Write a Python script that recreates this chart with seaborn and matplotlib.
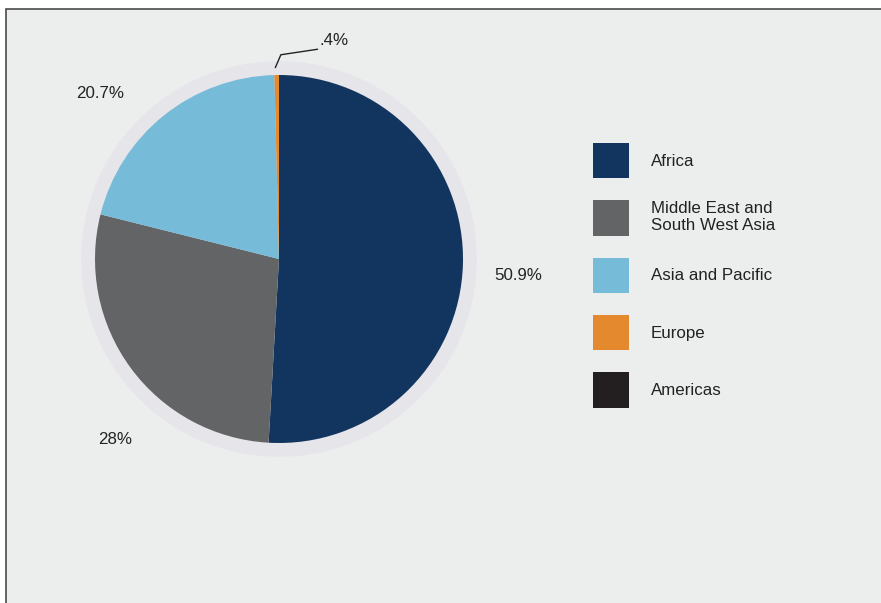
import matplotlib
matplotlib.use("Agg")
import matplotlib.pyplot as plt
import seaborn as sns
from matplotlib.patches import Rectangle, Circle, Patch

regions = ["Africa", "Middle East and\nSouth West Asia", "Asia and Pacific", "Europe", "Americas"]
shares = [50.9, 28.0, 20.7, 0.4, 0.0]
share_labels = ["50.9%", "28%", "20.7%", ".4%", ""]
colors = ["#12355f", "#636466", "#76bbd8", "#e5892f", "#231f20"]

sns.set_theme(style="white")
plt.rcParams['font.family'] = ['Liberation Sans', 'DejaVu Sans']

W, H = 881, 603
fig = plt.figure(figsize=(W / 100, H / 100), dpi=100)
fig.patch.set_facecolor("white")

# panel background with border
panel = Rectangle((6 / W, -0.01), 1.0, 1 - 9 / H + 0.01, transform=fig.transFigure,
                  facecolor="#eceeed", edgecolor="#4a4a4a", linewidth=1.2, zorder=-5)
fig.patches.append(panel)

ax = fig.add_axes([49 / W, (H - 489) / H, 460 / W, 460 / H])
ax.set_zorder(2)
ax.set_facecolor("none")

ax.add_patch(Circle((0, 0), 1.075, facecolor="#e5e5ea", edgecolor="none", zorder=0))
wedges, _ = ax.pie(shares, colors=colors, startangle=90, counterclock=False, radius=1.0,
                   wedgeprops=dict(linewidth=0))
for w in wedges:
    w.set_zorder(2)
ax.set_xlim(-1.25, 1.25)
ax.set_ylim(-1.25, 1.25)
ax.set_aspect("equal")
ax.axis("off")

fs = 12.2
lab_pos = [(1.30, -0.092), (-0.89, -0.98), (-0.97, 0.90), (0.30, 1.19)]
for (x, y), t in zip(lab_pos, share_labels[:4]):
    ax.text(x, y, t, ha="center", va="center", fontsize=fs, color="#222222")

ax.plot([-0.02, 0.01, 0.21], [1.04, 1.11, 1.14], color="#222222", lw=1.0, zorder=3)

handles = [Patch(facecolor=c, edgecolor="none") for c in colors]
fs_px = fs * 100 / 72
leg = fig.legend(handles, regions, loc="upper left", bbox_to_anchor=(593 / W, 1 - 143 / H),
                 frameon=False, fontsize=fs, borderpad=0, borderaxespad=0,
                 handlelength=36 / fs_px, handleheight=36 / fs_px * 36 / 27,
                 handletextpad=22 / fs_px, labelspacing=22 / fs_px)
for t in leg.get_texts():
    t.set_color("#222222")
leg.set_zorder(3)

fig.savefig("out.png", dpi=100)
